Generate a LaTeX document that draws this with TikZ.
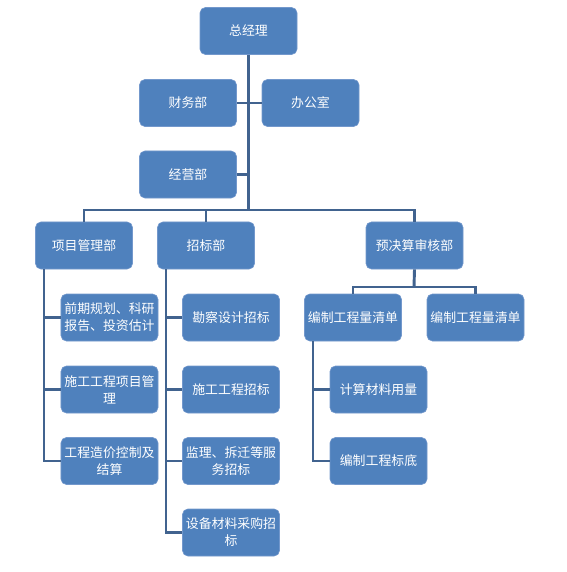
\documentclass[tikz,border=0pt]{standalone}
\usepackage{fontspec}
\newfontfamily\cjk{Noto Sans CJK SC}
\definecolor{boxblue}{HTML}{4F81BD}
\definecolor{boxedge}{HTML}{7398CC}
\definecolor{linkblue}{HTML}{41638F}
\begin{document}
\begin{tikzpicture}[x=0.03cm,y=-0.03cm,
  unit/.style={draw=boxedge,line width=0.5pt,fill=boxblue,rounded corners=0.16cm,
    minimum width=2.91cm,minimum height=1.41cm,inner sep=0pt,align=center,
    text=white,font=\cjk\fontsize{11}{14.5}\selectfont},
  link/.style={draw=linkblue,line width=2.5pt}]
\useasboundingbox (0,0) rectangle (566,572);
% top level
\node[unit] (zjl) at (248.5,31) {总经理};
\node[unit] (cw) at (188,103) {财务部};
\node[unit] (bgs) at (310.5,103) {办公室};
\node[unit] (jy) at (188,174.5) {经营部};
\coordinate (bar) at (249,210);
% departments
\node[unit] (xm) at (84,245.5) {项目管理部};
\node[unit] (zb) at (206,245.5) {招标部};
\node[unit] (ys) at (414.5,245.5) {预决算审核部};
% under 项目管理部
\node[unit] (q1) at (109.5,317.5) {前期规划、科研\\报告、投资估计};
\node[unit] (q2) at (109.5,389.5) {施工工程项目管\\理};
\node[unit] (q3) at (109.5,461) {工程造价控制及\\结算};
% under 招标部
\node[unit] (z1) at (231,317.5) {勘察设计招标};
\node[unit] (z2) at (231,389.5) {施工工程招标};
\node[unit] (z3) at (231,461) {监理、拆迁等服\\务招标};
\node[unit] (z4) at (231,532.5) {设备材料采购招\\标};
% under 预决算审核部
\coordinate (ysbar) at (414,287);
\node[unit] (y1) at (353,317.5) {编制工程量清单};
\node[unit] (y2) at (475.5,317.5) {编制工程量清单};
\node[unit] (y11) at (378.5,389.5) {计算材料用量};
\node[unit] (y12) at (378.5,461) {编制工程标底};
% connectors
\draw[link] (zjl.south) -- (zjl.south |- bar);
\draw[link] (cw.east) -- (bgs.west);
\draw[link] (jy.east) -- (jy.east -| zjl.south);
\draw[link] (xm.north) |- (bar) -| (ys.north);
\draw[link] (zb.north) -- (zb.north |- bar);
\coordinate (xmL) at (44,269);
\draw[link] (xmL) |- (q1.west);
\draw[link] (xmL) |- (q2.west);
\draw[link] (xmL) |- (q3.west);
\coordinate (zbL) at (166,269);
\draw[link] (zbL) |- (z1.west);
\draw[link] (zbL) |- (z2.west);
\draw[link] (zbL) |- (z3.west);
\draw[link] (zbL) |- (z4.west);
\draw[link] (ys.south) -- (ysbar);
\draw[link] (y1.north) |- (ysbar) -| (y2.north);
\coordinate (y1L) at (313,341);
\draw[link] (y1L) |- (y11.west);
\draw[link] (y1L) |- (y12.west);
\end{tikzpicture}
\end{document}
